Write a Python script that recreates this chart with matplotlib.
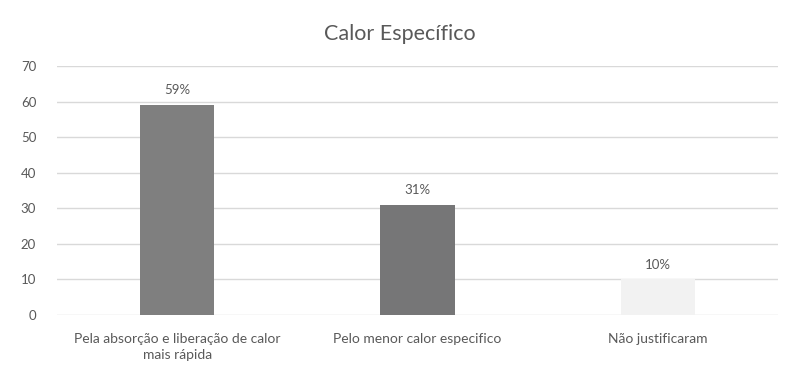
import matplotlib
matplotlib.use("Agg")
from matplotlib import pyplot as plt
import numpy as np

plt.rcParams['font.family'] = ['Lato', 'DejaVu Sans']

categories = ['Pela absorção e liberação de calor\nmais rápida',
              'Pelo menor calor especifico',
              'Não justificaram']
values = [59, 31, 10]
labels = ['59%', '31%', '10%']
colors = ['#7f7f7f', '#767677', '#f2f2f2']

fig = plt.figure(figsize=(7.86, 3.85), dpi=100)
ax = fig.add_axes([0.0725, 0.1818, 0.9175, 0.6468])

x = np.arange(len(values))
bars = ax.bar(x, values, width=0.31, color=colors, zorder=3)

for b, lab in zip(bars, labels):
    ax.text(b.get_x() + b.get_width() / 2, b.get_height() + 2.5, lab,
            ha='center', va='bottom', fontsize=9.5, color='#595959')

ax.set_xlim(-0.5, 2.5)
ax.set_ylim(0, 70)
ax.set_yticks(range(0, 71, 10))
ax.set_xticks(x)
ax.set_xticklabels(categories, fontsize=10, color='#595959', linespacing=1.35)
ax.tick_params(axis='y', labelsize=9.5, labelcolor='#595959', length=0, pad=15)
ax.tick_params(axis='x', length=0, pad=13)
ax.grid(axis='y', color='#d9d9d9', linewidth=1, zorder=0)
for s in ax.spines.values():
    s.set_visible(False)

fig.text(0.509, 0.912, 'Calor Específico', ha='center', va='center',
         fontsize=15.5, color='#595959')

plt.savefig('out.png', dpi=100)
plt.close(fig)
